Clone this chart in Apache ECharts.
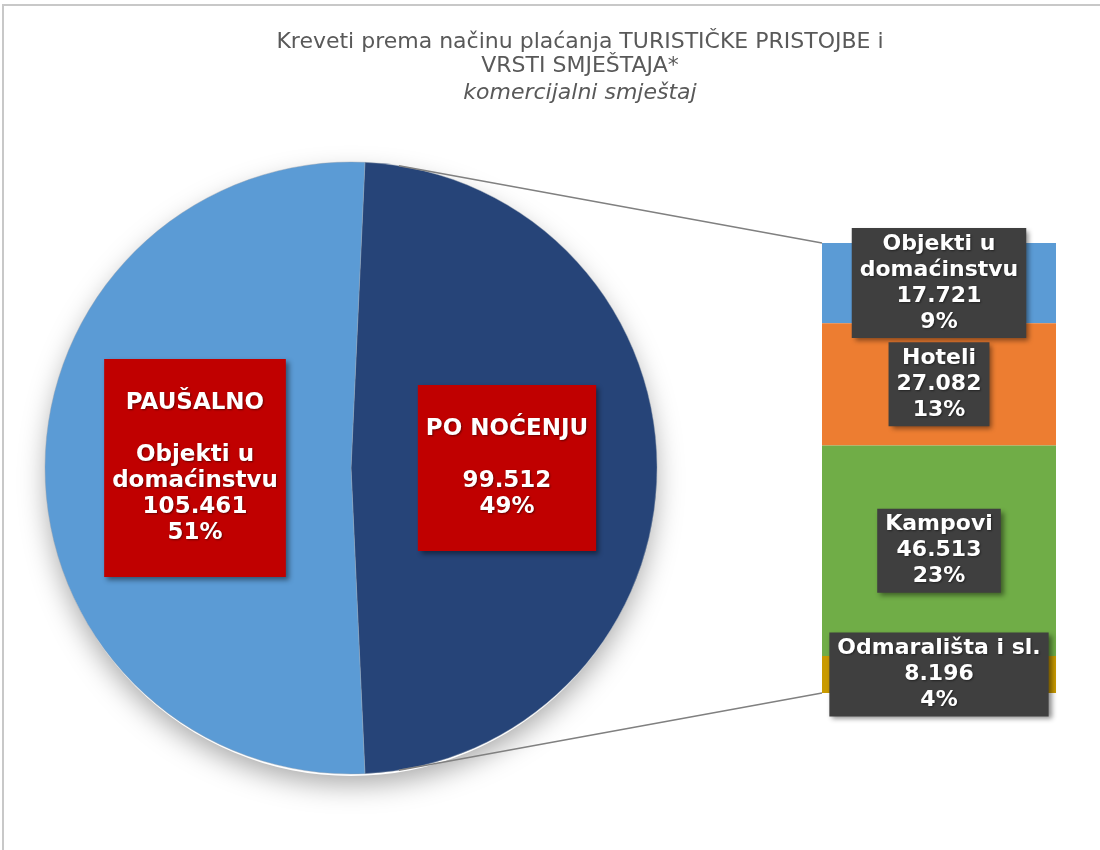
<!DOCTYPE html>
<html>
<head>
<meta charset="utf-8">
<script src="https://cdn.jsdelivr.net/npm/echarts@6/dist/echarts.min.js"></script>
<style>
  html, body { margin: 0; padding: 0; background: #fff; }
  #chart { width: 1100px; height: 850px; }
</style>
</head>
<body>
<div id="chart"></div>
<script>
// podaci - kreveti po načinu plaćanja
const payTypes = ['PO NOĆENJU', 'PAUŠALNO']
const payNotes = ['', 'Objekti u\ndomaćinstvu']
const payValues = [99512, 105461]
const payColors = ['#264478', '#5b9bd5']

// podjela "po noćenju" po vrsti smještaja
const accomTypes = ['Objekti u\ndomaćinstvu', 'Hoteli', 'Kampovi', 'Odmarališta i sl.']
const accomValues = [17721, 27082, 46513, 8196]
const accomColors = ['#5b9bd5', '#ed7d31', '#70ad47', '#c99a00']

// raspored
const pieCx = 351, pieCy = 468, pieR = 306
const barLeft = 822, barTop = 243, barW = 234, barH = 450

const total = payValues.reduce((a, b) => a + b, 0)
const barTotal = accomValues.reduce((a, b) => a + b, 0)
const fmt = v => String(v).replace(/\B(?=(\d{3})+(?!\d))/g, '.')
const pct = v => Math.round(v / total * 100) + '%'

// tamni isječak okrenut prema stupcu
const startAngle = payValues[0] / total * 180

const boxShadow = {
    shadowColor: 'rgba(0,0,0,0.45)',
    shadowBlur: 5,
    shadowOffsetX: 3,
    shadowOffsetY: 3,
    textShadowColor: 'rgba(0,0,0,0.45)',
    textShadowBlur: 2,
    textShadowOffsetX: 1,
    textShadowOffsetY: 1
}

// spojne linije od kruga do stupca
const connAngle = 9 * Math.PI / 180
const pTop = [pieCx + pieR * Math.sin(connAngle), pieCy - pieR * Math.cos(connAngle)]
const pBot = [pieCx + pieR * Math.sin(connAngle), pieCy + pieR * Math.cos(connAngle)]

let myChart = echarts.init(document.getElementById('chart'))
const options = {
    backgroundColor: '#fff',
    animation: false,
    title: {
        text: 'Kreveti prema načinu plaćanja TURISTIČKE PRISTOJBE i\nVRSTI SMJEŠTAJA*',
        subtext: 'komercijalni smještaj',
        left: 575,
        top: 25,
        textAlign: 'center',
        itemGap: 3,
        textStyle: {
            fontFamily: 'DejaVu Sans',
            fontSize: 22,
            fontWeight: 'normal',
            lineHeight: 24,
            color: '#595959'
        },
        subtextStyle: {
            fontFamily: 'DejaVu Sans',
            fontSize: 22,
            fontStyle: 'italic',
            lineHeight: 24,
            color: '#595959'
        }
    },
    graphic: [
        {
            type: 'rect',
            z: 0,
            shape: { x: 3, y: 5, width: 1200, height: 1000 },
            style: { fill: 'none', stroke: '#c8c8c8', lineWidth: 2 }
        },
        {
            type: 'circle',
            z: 0,
            shape: { cx: pieCx, cy: pieCy + 4, r: pieR - 2 },
            style: {
                fill: '#fff',
                shadowColor: 'rgba(0,0,0,0.35)',
                shadowBlur: 28,
                shadowOffsetY: 8
            }
        },
        {
            type: 'line',
            z: 5,
            shape: { x1: pTop[0], y1: pTop[1], x2: barLeft, y2: barTop },
            style: { stroke: '#808080', lineWidth: 1.5 }
        },
        {
            type: 'line',
            z: 5,
            shape: { x1: pBot[0], y1: pBot[1], x2: barLeft, y2: barTop + barH },
            style: { stroke: '#808080', lineWidth: 1.5 }
        }
    ],
    grid: {
        left: barLeft,
        top: barTop,
        width: barW,
        height: barH
    },
    xAxis: {
        type: 'category',
        data: ['PO NOĆENJU'],
        show: false
    },
    yAxis: {
        type: 'value',
        min: 0,
        max: barTotal,
        inverse: true,
        show: false
    },
    series: [
        {
            name: 'Način plaćanja',
            type: 'pie',
            center: [pieCx, pieCy],
            radius: pieR,
            startAngle: startAngle,
            clockwise: true,
            avoidLabelOverlap: false,
            z: 3,
            itemStyle: {
                borderColor: 'rgba(150,160,175,0.7)',
                borderWidth: 0.6
            },
            label: {
                show: true,
                position: 'inside',
                formatter: p => {
                    const note = payNotes[p.dataIndex]
                    return p.name + '\n\n' + (note ? note + '\n' : '') + fmt(p.value) + '\n' + pct(p.value)
                },
                color: '#fff',
                fontFamily: 'DejaVu Sans',
                fontWeight: 'bold',
                fontSize: 23,
                lineHeight: 26,
                backgroundColor: '#c00000',
                padding: [31, 8],
                ...boxShadow
            },
            labelLine: { show: false },
            data: payTypes.map((name, i) => ({
                name: name,
                value: payValues[i],
                itemStyle: { color: payColors[i] }
            }))
        },
        ...accomTypes.map((name, i) => ({
            name: name,
            type: 'bar',
            stack: 'noc',
            barWidth: '100%',
            z: 3,
            itemStyle: { color: accomColors[i] },
            label: {
                show: true,
                position: 'inside',
                formatter: p => p.seriesName + '\n' + fmt(p.value) + '\n' + pct(p.value),
                color: '#fff',
                fontFamily: 'DejaVu Sans',
                fontWeight: 'bold',
                fontSize: 22,
                lineHeight: 26,
                backgroundColor: '#3f3f3f',
                padding: [3, 8],
                ...boxShadow
            },
            data: [accomValues[i]]
        }))
    ]
}
myChart.setOption(options)
</script>
</body>
</html>
